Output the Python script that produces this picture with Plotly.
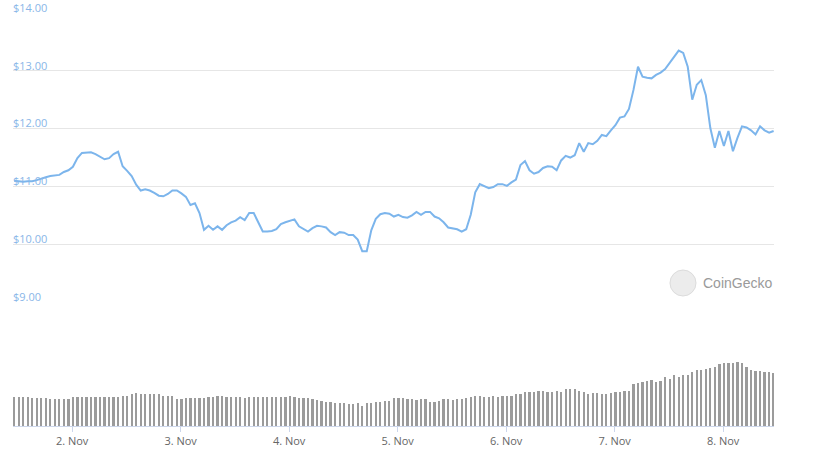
import plotly.graph_objects as go
import pandas as pd

# ---- data (hourly) ----
start_time = "2021-11-01 11:10"
price_usd = [
    11.10, 11.09, 11.08, 11.09, 11.09, 11.11, 11.14, 11.16, 11.18, 11.19,
    11.20, 11.25, 11.28, 11.34, 11.49, 11.58, 11.58, 11.59, 11.56, 11.51,
    11.47, 11.49, 11.56, 11.60, 11.35, 11.27, 11.18, 11.03, 10.93, 10.95,
    10.93, 10.89, 10.84, 10.83, 10.87, 10.93, 10.93, 10.88, 10.82, 10.68,
    10.71, 10.54, 10.25, 10.32, 10.25, 10.31, 10.25, 10.33, 10.38, 10.41,
    10.47, 10.42, 10.54, 10.54, 10.38, 10.22, 10.22, 10.23, 10.26, 10.35,
    10.38, 10.40, 10.43, 10.31, 10.26, 10.22, 10.28, 10.32, 10.31, 10.29,
    10.21, 10.16, 10.21, 10.20, 10.16, 10.16, 10.08, 9.88, 9.88, 10.24,
    10.44, 10.52, 10.54, 10.53, 10.48, 10.51, 10.47, 10.46, 10.50, 10.56,
    10.51, 10.56, 10.56, 10.48, 10.45, 10.38, 10.29, 10.27, 10.26, 10.22,
    10.26, 10.51, 10.90, 11.04, 11.01, 10.97, 10.99, 11.04, 11.04, 11.01,
    11.07, 11.12, 11.37, 11.44, 11.28, 11.22, 11.25, 11.32, 11.35, 11.34,
    11.28, 11.45, 11.53, 11.50, 11.54, 11.75, 11.60, 11.75, 11.73, 11.79,
    11.89, 11.87, 11.97, 12.06, 12.19, 12.21, 12.34, 12.67, 13.07, 12.90,
    12.88, 12.87, 12.93, 12.97, 13.03, 13.13, 13.24, 13.35, 13.31, 13.07,
    12.50, 12.76, 12.84, 12.58, 12.01, 11.67, 11.96, 11.70, 11.96, 11.61,
    11.84, 12.04, 12.02, 11.97, 11.90, 12.04, 11.97, 11.93, 11.96,
]
volume_musd = [
    2.93, 2.87, 2.87, 2.87, 2.77, 2.77, 2.77, 2.77, 2.70, 2.67,
    2.67, 2.67, 2.67, 2.87, 2.87, 2.93, 2.93, 2.87, 2.87, 2.93,
    2.87, 2.87, 2.93, 2.93, 3.03, 3.03, 3.17, 3.27, 3.17, 3.17,
    3.17, 3.17, 3.17, 3.03, 3.03, 3.03, 2.70, 2.67, 2.83, 2.83,
    2.77, 2.77, 2.83, 2.93, 2.93, 3.03, 3.03, 2.87, 2.87, 2.93,
    2.87, 2.77, 2.87, 2.87, 2.87, 2.87, 2.93, 2.87, 2.87, 2.93,
    2.93, 3.03, 2.93, 2.77, 2.83, 2.77, 2.70, 2.60, 2.53, 2.37,
    2.37, 2.27, 2.27, 2.27, 2.17, 2.17, 2.27, 2.00, 2.27, 2.27,
    2.37, 2.43, 2.53, 2.53, 2.77, 2.77, 2.77, 2.67,
    2.67, 2.57, 2.67, 2.67, 2.43, 2.43, 2.53, 2.67, 2.67, 2.57,
    2.67, 2.67, 2.77, 2.93, 3.03, 3.03, 2.93, 2.93, 3.03, 2.87,
    3.03, 3.03, 3.03, 3.23, 3.23, 3.43, 3.43, 3.43, 3.53, 3.53,
    3.43, 3.43, 3.53, 3.43, 3.67, 3.67, 3.67, 3.53, 3.43, 3.17,
    3.27, 3.27, 3.17, 3.17, 3.27, 3.37, 3.37, 3.53, 3.53, 4.17,
    4.33, 4.43, 4.50, 4.60, 4.43, 4.50, 4.93, 4.67, 5.07, 4.93,
    5.07, 5.07, 5.40, 5.60, 5.60, 5.67, 5.77, 5.93, 6.20, 6.27,
    6.33, 6.27, 6.43, 6.33, 5.87, 5.60, 5.53, 5.53, 5.43, 5.37,
    5.27,
]
price_ticks = [9, 10, 11, 12, 13, 14]
day_ticks = ["2021-11-02", "2021-11-03", "2021-11-04", "2021-11-05",
             "2021-11-06", "2021-11-07", "2021-11-08"]

times = pd.date_range(start_time, periods=len(price_usd), freq="h")
vol_times = pd.date_range(start_time, periods=len(volume_musd), freq="h")

fig = go.Figure()
fig.add_trace(go.Bar(
    x=vol_times, y=volume_musd, yaxis="y2",
    marker=dict(color="#9b9b9b", line=dict(width=0)),
    width=0.5 * 3600 * 1000, hoverinfo="skip",
))
fig.add_trace(go.Scatter(
    x=times, y=price_usd, mode="lines", yaxis="y",
    line=dict(color="#7cb5ec", width=2), hoverinfo="skip",
))

fig.update_layout(
    width=814, height=456,
    margin=dict(l=13, r=40, t=13, b=30, autoexpand=False),
    paper_bgcolor="white", plot_bgcolor="white",
    showlegend=False, bargap=0,
    font=dict(family="Open Sans, sans-serif", size=11, color="#666666"),
    xaxis=dict(
        type="date", anchor="y2", automargin=False,
        range=["2021-11-01 10:55", "2021-11-08 11:15"],
        tickvals=day_ticks, tickformat="%-d. %b",
        ticks="outside", ticklen=5, tickcolor="#ccd6eb", tickwidth=1,
        showline=True, linecolor="#ccd6eb", linewidth=1,
        showgrid=False, zeroline=False,
        tickfont=dict(size=11, color="#666666"),
    ),
    yaxis=dict(
        domain=[0.3, 1.0], range=[9, 14], automargin=False,
        tickvals=price_ticks, tickformat="$.2f",
        ticklabelposition="inside", ticklabeloverflow="allow",
        ticklabelshift=-5, ticklabelstandoff=-3,
        showgrid=True, gridcolor="#e6e6e6", gridwidth=1,
        zeroline=False, showline=False, ticks="",
        tickfont=dict(size=11, color="#89b6e8"),
    ),
    yaxis2=dict(
        domain=[0.0, 0.25], range=[0, max(volume_musd) * 1.6], automargin=False,
        showticklabels=False, showgrid=False, zeroline=False,
        showline=False, ticks="",
    ),
)

# CoinGecko watermark
fig.add_shape(type="circle", xref="paper", yref="paper",
              x0=0.8633, x1=0.8975, y0=0.3148, y1=0.3777,
              fillcolor="#ececec", line=dict(color="#dcdcdc", width=1), layer="above")
fig.add_annotation(text="CoinGecko", xref="paper", yref="paper",
                   x=0.904, y=0.346, xanchor="left", yanchor="middle",
                   showarrow=False,
                   font=dict(family="Liberation Sans, Arial, sans-serif", size=14, color="#9a9a9a"))

# remove the default 8px page margin so the figure fills the window exactly
fig.write_html("out.html", config={"displayModeBar": False},
               post_script="document.body.style.margin='0';")
